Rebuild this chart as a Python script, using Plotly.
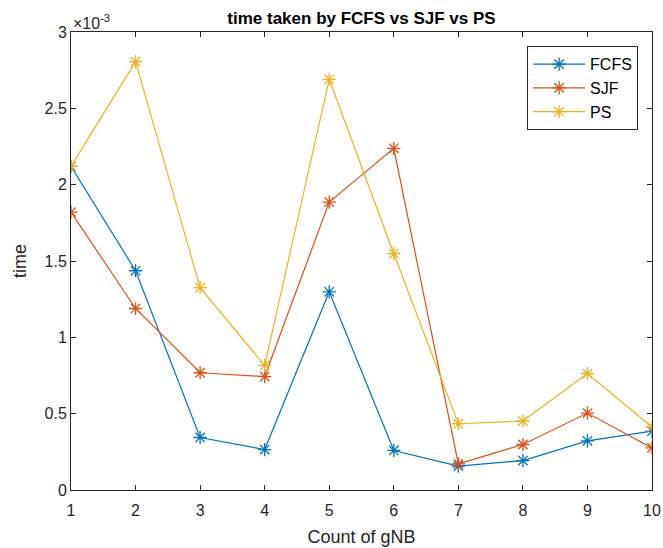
import plotly.graph_objects as go

# Count of gNB
gnb = [1, 2, 3, 4, 5, 6, 7, 8, 9, 10]

# Time taken (seconds) per scheduling algorithm
fcfs = [2.12e-3, 1.436e-3, 0.344e-3, 0.265e-3, 1.298e-3, 0.259e-3, 0.156e-3, 0.193e-3, 0.322e-3, 0.386e-3]
sjf = [1.82e-3, 1.189e-3, 0.768e-3, 0.743e-3, 1.886e-3, 2.238e-3, 0.171e-3, 0.298e-3, 0.504e-3, 0.276e-3]
ps = [2.12e-3, 2.806e-3, 1.325e-3, 0.816e-3, 2.69e-3, 1.548e-3, 0.434e-3, 0.452e-3, 0.763e-3, 0.412e-3]

series_names = ["FCFS", "SJF", "PS"]
series_colors = ["#0072BD", "#D95319", "#EDB120"]

y_tickvals = [0, 0.5e-3, 1e-3, 1.5e-3, 2e-3, 2.5e-3, 3e-3]
y_ticktext = ["0", "0.5", "1", "1.5", "2", "2.5", "3"]

FONT = "Liberation Sans, Arial, Helvetica, sans-serif"
AXIS_COLOR = "#262626"

fig = go.Figure()
for name, vals, color in zip(series_names, [fcfs, sjf, ps], series_colors):
    fig.add_trace(go.Scatter(
        x=gnb, y=vals, name=name, mode="lines+markers",
        line=dict(color=color, width=1.2),
        marker=dict(symbol="asterisk-open", size=11, color=color,
                    line=dict(color=color, width=1.3)),
    ))

axis_common = dict(
    showline=True, linecolor=AXIS_COLOR, linewidth=1, mirror="ticks",
    ticks="inside", ticklen=5, tickcolor=AXIS_COLOR, tickwidth=1,
    showgrid=False, zeroline=False, automargin=False,
    tickfont=dict(family=FONT, size=16, color=AXIS_COLOR),
)

fig.update_layout(
    width=663, height=548,
    margin=dict(l=71, r=11, t=32, b=58),
    paper_bgcolor="white", plot_bgcolor="white",
    font=dict(family=FONT, color=AXIS_COLOR),
    title=dict(text="<b>time taken by FCFS vs SJF vs PS</b>",
               x=0.5, xref="paper", xanchor="center",
               y=1, yref="paper", yanchor="bottom", pad=dict(b=8),
               font=dict(family=FONT, size=17, color="black")),
    xaxis=dict(range=[1, 10], tickvals=gnb, ticklabelstandoff=6,
               title=dict(text="Count of gNB", standoff=12,
                          font=dict(family=FONT, size=18, color=AXIS_COLOR)),
               **axis_common),
    yaxis=dict(range=[0, 3e-3], tickvals=y_tickvals, ticktext=y_ticktext,
               title=dict(text="time", standoff=13,
                          font=dict(family=FONT, size=18, color=AXIS_COLOR)),
               **axis_common),
    legend=dict(x=0.785, y=0.969, xanchor="left", yanchor="top",
                bgcolor="white", bordercolor=AXIS_COLOR, borderwidth=1,
                font=dict(family=FONT, size=16, color="black"),
                itemwidth=52, tracegroupgap=0),
    showlegend=True,
)

# Exponent multiplier above the y axis
fig.add_annotation(text="\u00d710<sup>-3</sup>", xref="paper", yref="paper",
                   x=0, y=1, xanchor="left", yanchor="bottom", showarrow=False,
                   font=dict(family=FONT, size=16, color=AXIS_COLOR), yshift=-2)

fig.write_html("out.html")
